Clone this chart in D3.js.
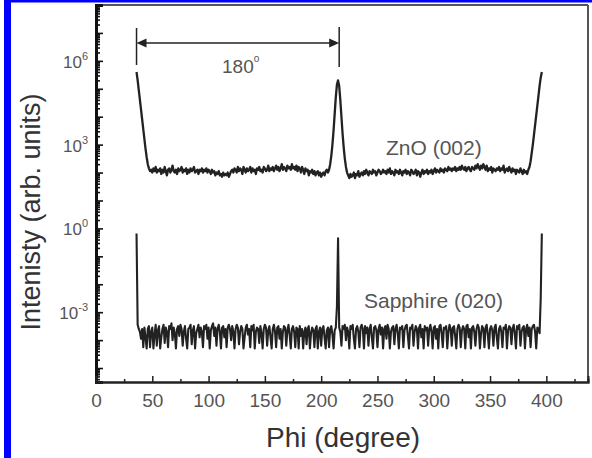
<!doctype html>
<html>
<head>
<meta charset="utf-8">
<style>
  body { margin: 0; background: #fff; }
  svg text { font-family: "Liberation Sans", Arial, sans-serif; }
  .curve { fill: none; stroke: #222; stroke-linejoin: round; }
</style>
<script src="https://d3js.org/d3.v7.min.js"></script>
</head>
<body>
<svg width="592" height="458" id="chart"></svg>
<script>
// phi is sampled every degree, 36 .. 396
var phi = d3.range(36, 397, 1);

// log10 of intensity
var znoLog = [
  5.6, 5.3, 4.95, 4.6, 4.25, 3.9, 3.55, 3.2, 2.85, 2.55, 2.3, 2.15, 2.05, 2.1, 2.0, 2.15, 2.05, 2.2, 2.0, 2.1,
  2.05, 2.15, 1.95, 2.1, 2.0, 2.2, 2.05, 1.9, 2.1, 2.15, 2.0, 2.1, 2.25, 2.05, 2.0, 2.1, 1.95, 2.15, 2.05, 2.1,
  2.2, 2.0, 2.1, 2.05, 2.15, 1.95, 2.1, 2.0, 2.15, 2.05, 2.1, 2.2, 2.0, 2.05, 2.1, 1.95, 2.1, 2.05, 2.15, 2.0,
  2.1, 2.05, 2.15, 2.0, 2.1, 2.05, 1.95, 2.1, 2.0, 2.05, 1.9, 2.0, 1.95, 2.05, 1.9, 1.95, 1.85, 2.0, 1.9, 1.95,
  1.9, 2.0, 1.85, 1.95, 2.05, 2.1, 2.0, 2.15, 2.1, 2.0, 2.2, 2.05, 2.15, 2.1, 1.95, 2.2, 2.1, 2.0, 2.15, 2.05,
  2.1, 2.2, 2.0, 2.15, 2.05, 2.1, 1.95, 2.15, 2.1, 2.2, 2.05, 2.1, 2.0, 2.2, 2.15, 2.05, 2.1, 2.25, 2.05, 2.15,
  2.1, 2.2, 2.05, 2.15, 2.25, 2.1, 2.2, 2.05, 2.15, 2.3, 2.1, 2.2, 2.15, 2.05, 2.25, 2.15, 2.2, 2.1, 2.3, 2.15,
  2.2, 2.1, 2.25, 2.05, 2.2, 2.15, 2.0, 2.2, 2.1, 1.95, 2.15, 2.05, 2.1, 1.9, 2.05, 2.0, 2.1, 1.95, 2.05, 1.9,
  2.0, 2.05, 1.9, 2.0, 1.85, 1.95, 2.0, 1.9, 2.05, 2.1, 2.0, 2.1, 2.3, 2.6, 3.0, 3.5, 4.1, 4.7, 5.15, 5.3,
  5.1, 4.6, 4.0, 3.4, 2.9, 2.5, 2.2, 2.0, 1.9, 1.8, 1.95, 1.85, 1.9, 2.0, 1.8, 1.95, 1.9, 2.05, 1.85, 1.95,
  2.0, 1.9, 2.05, 1.95, 2.1, 2.0, 1.9, 2.05, 2.0, 1.95, 2.1, 2.0, 2.05, 1.9, 2.0, 2.1, 2.05, 1.95, 2.0, 2.1,
  2.0, 2.05, 1.95, 2.1, 2.0, 2.15, 1.95, 2.05, 2.0, 1.9, 2.1, 2.0, 2.05, 1.95, 2.1, 2.0, 1.9, 2.05, 2.0, 2.1,
  1.95, 2.05, 2.0, 1.9, 2.1, 2.05, 1.95, 2.0, 2.1, 1.9, 2.05, 2.0, 1.85, 2.0, 2.1, 1.95, 2.05, 2.0, 2.1, 1.95,
  2.05, 2.0, 2.1, 1.95, 2.05, 2.15, 2.0, 2.1, 2.05, 2.0, 2.15, 2.05, 2.1, 2.0, 2.15, 2.1, 2.05, 2.2, 2.1, 2.15,
  2.05, 2.15, 2.1, 2.2, 2.05, 2.15, 2.1, 2.2, 2.1, 2.25, 2.15, 2.1, 2.2, 2.05, 2.15, 2.2, 2.1, 2.05, 2.2, 2.15,
  2.1, 2.25, 2.15, 2.3, 2.2, 2.1, 2.25, 2.15, 2.3, 2.2, 2.1, 2.25, 2.05, 2.15, 2.1, 2.2, 2.0, 2.15, 2.1, 2.05,
  2.15, 2.1, 2.2, 2.05, 2.15, 2.1, 2.25, 2.0, 2.1, 2.15, 2.05, 2.2, 2.1, 2.0, 2.15, 2.05, 2.1, 1.95, 2.1, 2.05,
  2.0, 2.15, 2.05, 1.95, 2.1, 2.0, 2.05, 1.95, 2.1, 2.2, 2.4, 2.7, 3.0, 3.35, 3.7, 4.05, 4.4, 4.75, 5.1, 5.4,
  5.6
];

var sapphireLog = [
  -0.18, -3.45, -3.6, -3.7, -3.95, -3.6, -4.25, -3.55, -3.9, -4.3, -3.6, -3.5, -4.25, -3.7, -3.55, -4.3, -3.8, -3.45, -4.2, -3.65,
  -3.5, -4.3, -3.9, -3.6, -3.45, -4.1, -3.55, -3.7, -4.25, -3.5, -3.6, -3.4, -4.0, -3.55, -3.75, -4.3, -3.6, -3.5, -3.85, -3.45,
  -3.6, -4.2, -3.7, -3.5, -3.95, -4.3, -3.6, -3.55, -3.45, -4.15, -3.65, -3.5, -4.3, -3.75, -3.6, -3.45, -3.9, -3.55, -3.7, -4.25,
  -3.5, -3.6, -3.45, -3.95, -3.55, -4.3, -3.65, -3.5, -3.4, -3.85, -3.55, -4.2, -3.6, -3.45, -3.7, -4.3, -3.55, -3.5, -3.9, -3.6,
  -4.25, -3.55, -3.45, -3.6, -4.0, -3.5, -3.7, -4.3, -3.6, -3.45, -3.55, -4.15, -3.7, -3.5, -3.6, -4.3, -3.9, -3.55, -3.45, -3.8,
  -3.6, -4.25, -3.5, -3.65, -3.45, -4.3, -3.7, -3.55, -3.6, -4.1, -3.5, -3.75, -4.3, -3.6, -3.45, -3.55, -4.2, -3.65, -3.5, -3.9,
  -4.3, -3.6, -3.45, -3.7, -4.25, -3.55, -3.5, -3.95, -3.6, -4.3, -3.7, -3.5, -3.55, -4.2, -3.65, -3.45, -3.8, -4.3, -3.6, -3.5,
  -3.7, -4.25, -3.55, -3.6, -4.3, -3.5, -3.85, -3.6, -4.3, -3.7, -3.55, -4.15, -3.6, -3.5, -4.3, -3.75, -3.55, -3.65, -4.25, -3.6,
  -3.5, -4.3, -3.7, -3.55, -4.2, -3.6, -3.5, -3.9, -4.3, -3.65, -3.55, -4.25, -3.6, -3.5, -3.8, -4.3, -3.65, -3.55, -2.8, -0.35,
  -3.55, -3.7, -4.2, -3.5, -3.6, -3.45, -4.0, -3.55, -3.7, -4.3, -3.5, -3.6, -3.45, -3.95, -4.3, -3.6, -3.5, -3.7, -4.25, -3.55,
  -3.45, -3.6, -4.3, -3.5, -3.75, -3.55, -4.2, -3.6, -3.45, -3.9, -4.3, -3.55, -3.5, -3.65, -4.25, -3.6, -3.45, -3.8, -3.55, -4.3,
  -3.6, -3.5, -3.95, -3.45, -3.6, -4.3, -3.7, -3.55, -3.5, -4.15, -3.6, -3.45, -3.75, -4.3, -3.55, -3.6, -3.5, -4.25, -3.65, -3.5,
  -3.45, -3.85, -4.3, -3.55, -3.6, -3.45, -4.2, -3.7, -3.5, -3.6, -4.3, -3.55, -3.45, -3.9, -3.6, -4.3, -3.5, -3.65, -3.55, -4.2,
  -3.6, -3.45, -3.7, -4.3, -3.55, -3.5, -3.95, -3.6, -4.3, -3.5, -3.45, -3.75, -4.25, -3.55, -3.6, -3.5, -4.3, -3.7, -3.45, -3.6,
  -4.2, -3.55, -3.5, -3.85, -4.3, -3.6, -3.45, -3.55, -4.25, -3.65, -3.5, -3.6, -4.3, -3.5, -3.45, -3.9, -3.6, -4.3, -3.55, -3.5,
  -3.7, -4.2, -3.6, -3.45, -3.55, -4.3, -3.75, -3.5, -3.6, -4.25, -3.55, -3.45, -3.8, -4.3, -3.6, -3.5, -3.65, -4.2, -3.55, -3.45,
  -3.9, -4.3, -3.6, -3.5, -3.7, -4.25, -3.55, -3.6, -3.45, -4.3, -3.65, -3.5, -3.55, -4.15, -3.6, -3.45, -3.75, -4.3, -3.5, -3.6,
  -3.45, -4.2, -3.7, -3.55, -3.5, -4.3, -3.6, -3.45, -3.85, -3.55, -4.25, -3.6, -3.5, -3.45, -3.7, -4.3, -3.55, -3.6, -3.75, -2.5,
  -0.18
];

var xMajor = [0, 50, 100, 150, 200, 250, 300, 350, 400];
var xMinor = [25, 75, 125, 175, 225, 275, 325, 375, 425];
var yLabelExp = [6, 3, 0, -3];
var spanPhi = [36, 216];   // the 180 degree arrow

var svg = d3.select("#chart");

// blue page border (top and left)
svg.append("rect").attr("x", 4).attr("y", 0).attr("width", 588).attr("height", 2.5).attr("fill", "#0000ff");
svg.append("rect").attr("x", 4).attr("y", 0).attr("width", 7).attr("height", 458).attr("fill", "#0000ff");

var x = d3.scaleLinear().domain([0, 437]).range([96, 588]);
var y = d3.scaleLog().domain([Math.pow(10, -5.5), 1e8]).range([382, 5]);

// frame top / right
svg.append("line").attr("x1", 96).attr("x2", 588).attr("y1", 5).attr("y2", 5)
   .attr("stroke", "#555").attr("stroke-width", 2);
svg.append("line").attr("x1", 588).attr("x2", 588).attr("y1", 5).attr("y2", 382)
   .attr("stroke", "#555").attr("stroke-width", 2);

// y axis: decades + log minor ticks, pointing inward
var decades = d3.range(-5, 9).map(function(e) { return Math.pow(10, e); });
var minors = [];
d3.range(-6, 8).forEach(function(e) {
    for (var k = 2; k <= 9; k++) {
        var v = k * Math.pow(10, e);
        if (v > y.domain()[0] && v < y.domain()[1]) minors.push(v);
    }
});

var yMinorG = svg.append("g").attr("transform", "translate(96,0)")
   .call(d3.axisLeft(y).tickValues(minors).tickSize(-4).tickFormat(""));
var yMajorG = svg.append("g").attr("transform", "translate(96,0)")
   .call(d3.axisLeft(y).tickValues(decades).tickSize(-7).tickFormat(""));
[yMinorG, yMajorG].forEach(function(g) {
    g.select(".domain").attr("stroke", "#111").attr("stroke-width", 3);
    g.selectAll(".tick line").attr("stroke", "#111").attr("stroke-width", 1.6);
});

yLabelExp.forEach(function(e) {
    var t = svg.append("text")
        .attr("x", 88).attr("y", y(Math.pow(10, e)) + 7)
        .attr("text-anchor", "end")
        .attr("font-size", 17).attr("fill", "#555");
    t.append("tspan").text("10");
    t.append("tspan").attr("font-size", 11).attr("dy", -8).text(e);
});

// x axis, ticks inward
var xMinorG = svg.append("g").attr("transform", "translate(0,382)")
   .call(d3.axisBottom(x).tickValues(xMinor).tickSize(-3).tickFormat(""));
var xMajorG = svg.append("g").attr("transform", "translate(0,382)")
   .call(d3.axisBottom(x).tickValues(xMajor).tickSize(-6).tickPadding(0));
[xMinorG, xMajorG].forEach(function(g) {
    g.select(".domain").attr("stroke", "#222").attr("stroke-width", 2);
    g.selectAll(".tick line").attr("stroke", "#222").attr("stroke-width", 1.5);
});
xMajorG.selectAll(".tick text")
   .attr("y", 25).attr("dy", 0)
   .attr("font-size", 19).attr("fill", "#555")
   .attr("font-family", "Liberation Sans, Arial, sans-serif");

// curves
var line = d3.line()
    .x(function(d, i) { return x(phi[i]); })
    .y(function(d) { return y(Math.pow(10, d)); });

svg.append("path").attr("class", "curve").attr("stroke-width", 2.3).attr("d", line(znoLog));
svg.append("path").attr("class", "curve").attr("stroke-width", 2.1).attr("d", line(sapphireLog));

// labels
svg.append("text").attr("x", 386).attr("y", 155).attr("font-size", 21).attr("fill", "#555").text("ZnO (002)");
svg.append("text").attr("x", 364).attr("y", 308).attr("font-size", 21).attr("fill", "#555").text("Sapphire (020)");

svg.append("text")
   .attr("transform", "translate(40,212) rotate(-90)")
   .attr("text-anchor", "middle")
   .attr("font-size", 27).attr("fill", "#333")
   .text("Intenisty (arb. units)");

svg.append("text")
   .attr("x", 343).attr("y", 447)
   .attr("text-anchor", "middle")
   .attr("font-size", 28).attr("fill", "#333")
   .text("Phi (degree)");

// 180 degree span arrow
var ax1 = x(spanPhi[0]), ax2 = x(spanPhi[1]), ay = 43;
var ann = svg.append("g").attr("stroke", "#222").attr("stroke-width", 1.5);
ann.append("line").attr("x1", ax1).attr("x2", ax1).attr("y1", 28).attr("y2", 65);
ann.append("line").attr("x1", ax2).attr("x2", ax2).attr("y1", 27).attr("y2", 67);
ann.append("line").attr("x1", ax1 + 4).attr("x2", ax2 - 4).attr("y1", ay).attr("y2", ay);
svg.append("path")
   .attr("d", "M" + ax1 + "," + ay + "l10,-4.5l0,9z")
   .attr("fill", "#222");
svg.append("path")
   .attr("d", "M" + ax2 + "," + ay + "l-10,-4.5l0,9z")
   .attr("fill", "#222");

var lab = svg.append("text").attr("x", 222).attr("y", 73)
   .attr("font-size", 19).attr("fill", "#555");
lab.append("tspan").text("180");
lab.append("tspan").attr("font-size", 10).attr("dy", -11).text("o");
</script>
</body>
</html>
